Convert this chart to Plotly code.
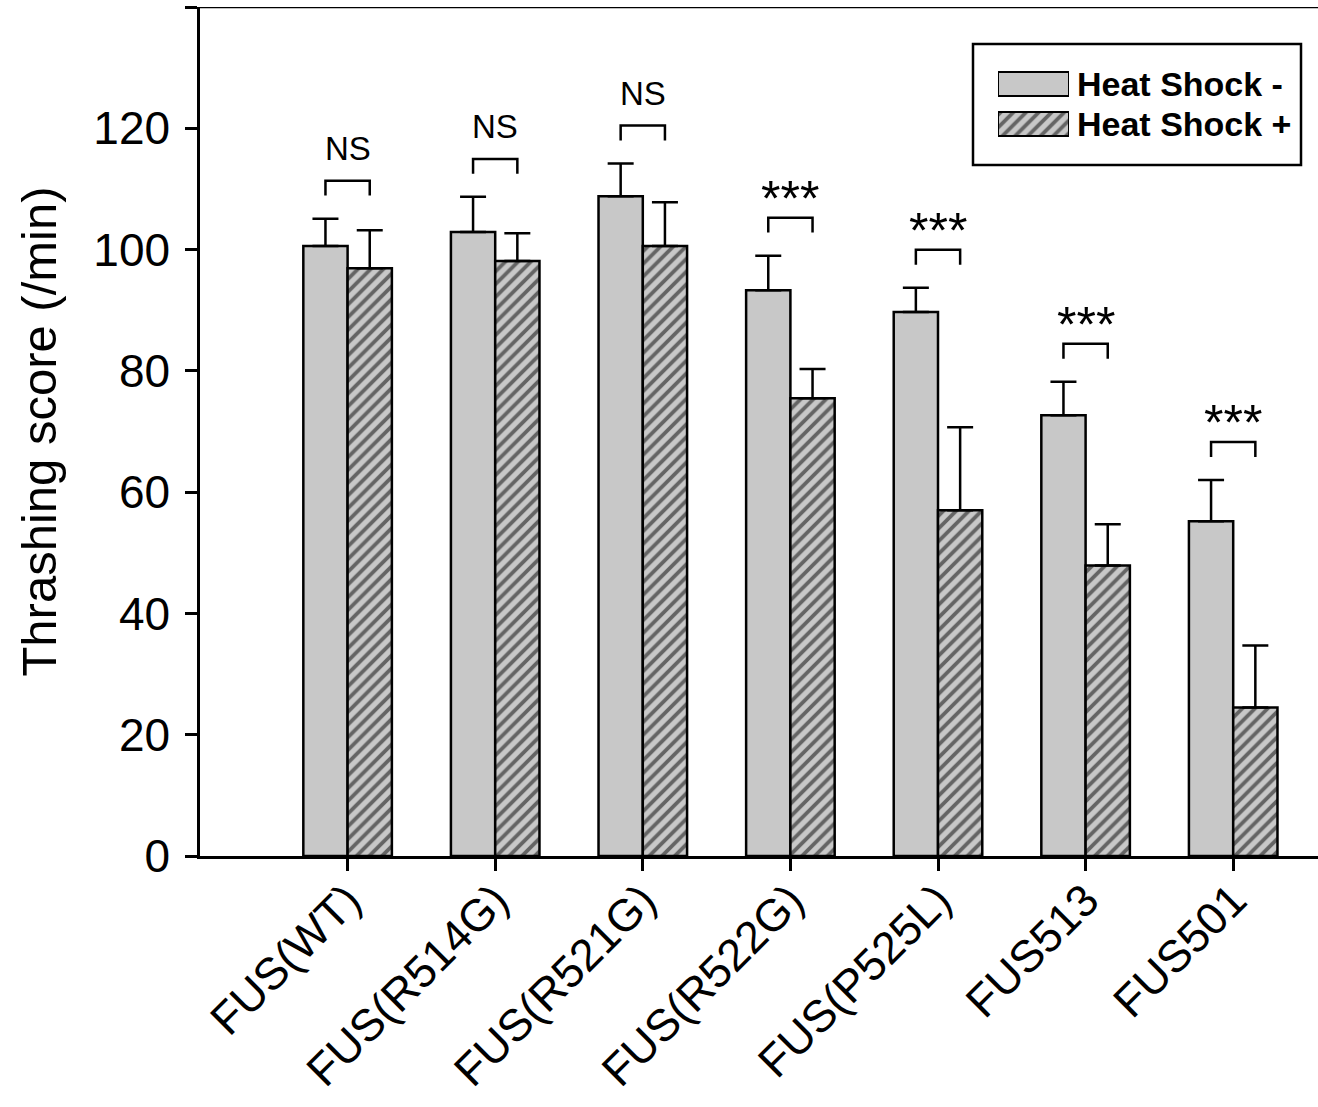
import plotly.graph_objects as go

# ---- data -------------------------------------------------------------
categories = ["FUS(WT)", "FUS(R514G)", "FUS(R521G)", "FUS(R522G)",
              "FUS(P525L)", "FUS513", "FUS501"]
series_names = ["Heat Shock -", "Heat Shock +"]

hs_minus = [100.6, 102.9, 108.8, 93.3, 89.7, 72.7, 55.2]
hs_minus_err = [4.5, 5.8, 5.4, 5.7, 4.0, 5.5, 6.8]
hs_plus = [96.9, 98.1, 100.6, 75.5, 57.0, 47.9, 24.5]
hs_plus_err = [6.3, 4.6, 7.2, 4.8, 13.7, 6.8, 10.2]

significance = ["NS", "NS", "NS", "***", "***", "***", "***"]

y_ticks = [0, 20, 40, 60, 80, 100, 120, 140]
y_ticktext = ["0", "20", "40", "60", "80", "100", "120", ""]

# ---- style ------------------------------------------------------------
FONT = "Liberation Sans, Arial, Helvetica, sans-serif"
GRAY = "#c8c8c8"
LW = 2.5
W, H = 1318, 1107
M_L, M_R, M_T, M_B = 200, 0, 7, 251
HATCH = dict(shape="/", fgcolor="black", bgcolor=GRAY, size=9, solidity=0.42)

x_pos = list(range(len(categories)))
zeros = [0] * len(categories)

fig = go.Figure()

fig.add_trace(go.Bar(
    x=x_pos, y=hs_minus, name=series_names[0], offsetgroup="a",
    marker=dict(color=GRAY, line=dict(color="black", width=LW)),
    error_y=dict(type="data", array=hs_minus_err, arrayminus=zeros,
                 symmetric=False, color="black", thickness=LW, width=13),
    showlegend=False,
))
fig.add_trace(go.Bar(
    x=x_pos, y=hs_plus, name=series_names[1], offsetgroup="b",
    marker=dict(color=GRAY, line=dict(color="black", width=LW), pattern=HATCH),
    error_y=dict(type="data", array=hs_plus_err, arrayminus=zeros,
                 symmetric=False, color="black", thickness=LW, width=13),
    showlegend=False,
))

# ---- significance brackets -------------------------------------------
half = 0.15          # half the distance between the two bar centres
leg = 2.45           # bracket leg height in data units
gap = 3.8            # space between highest cap and bracket
for i, lab in enumerate(significance):
    top_cap = max(hs_minus[i] + hs_minus_err[i], hs_plus[i] + hs_plus_err[i])
    base = top_cap + gap
    top = base + leg
    fig.add_shape(type="path",
                  path=f"M {i-half},{base} L {i-half},{top} L {i+half},{top} L {i+half},{base}",
                  xref="x", yref="y", line=dict(color="black", width=LW))
    if lab == "NS":
        fig.add_annotation(x=i, y=top, text=lab, showarrow=False,
                           xanchor="center", yanchor="bottom", yshift=12,
                           font=dict(family=FONT, size=33, color="black"))
    else:
        fig.add_annotation(x=i, y=top, text=lab, showarrow=False,
                           xanchor="center", yanchor="bottom", yshift=-11,
                           font=dict(family=FONT, size=50, color="black"))

# top frame line
fig.add_shape(type="line", xref="paper", yref="y", x0=0, x1=1, y0=140, y1=140,
              line=dict(color="black", width=LW))

# ---- legend (swatches drawn on a small inset axis) ----------------------
pw = W - M_L - M_R
ph = H - M_T - M_B


def px_x(p):
    return (p - M_L) / pw


def px_y(p):
    return (H - M_B - p) / ph


fig.add_trace(go.Bar(
    x=[1], y=[0], orientation="h", width=0.6, xaxis="x2", yaxis="y2",
    marker=dict(color=GRAY, line=dict(color="black", width=2)),
    showlegend=False, hoverinfo="skip",
))
fig.add_trace(go.Bar(
    x=[1], y=[1], orientation="h", width=0.6, xaxis="x2", yaxis="y2",
    marker=dict(color=GRAY, line=dict(color="black", width=2), pattern=HATCH),
    showlegend=False, hoverinfo="skip",
))
for k, nm in enumerate(series_names):
    fig.add_annotation(x=px_x(1075), y=px_y(84 + 40 * k), xref="paper", yref="paper",
                       text=f"<b>{nm}</b>", showarrow=False,
                       xanchor="left", yanchor="middle",
                       font=dict(family=FONT, size=34, color="black"))

fig.add_shape(type="rect", xref="paper", yref="paper",
              x0=px_x(973), x1=px_x(1301), y0=px_y(165), y1=px_y(44),
              line=dict(color="black", width=LW), fillcolor="rgba(0,0,0,0)",
              layer="below")

fig.update_layout(
    width=W, height=H,
    margin=dict(l=M_L, r=M_R, t=M_T, b=M_B),
    paper_bgcolor="white", plot_bgcolor="white",
    barmode="group", bargap=0.4, bargroupgap=0,
    font=dict(family=FONT, color="black"),
    xaxis=dict(
        range=[-1, (W - M_L) / 147.6 - 1], tickmode="array",
        tickvals=x_pos, ticktext=categories, tickangle=-45,
        tickfont=dict(size=45), showgrid=False, zeroline=False,
        showline=True, linecolor="black", linewidth=LW,
        ticks="outside", ticklen=12, tickwidth=LW, tickcolor="black",
        ticklabelstandoff=-15, automargin=False,
    ),
    yaxis=dict(
        range=[0, 140], tickmode="array", tickvals=y_ticks, ticktext=y_ticktext,
        tickfont=dict(size=46), showgrid=False, zeroline=False,
        showline=True, linecolor="black", linewidth=LW,
        ticks="outside", ticklen=12, tickwidth=LW, tickcolor="black",
        ticklabelstandoff=6, automargin=False,
        title=dict(text="Thrashing score (/min)", font=dict(size=49), standoff=22),
    ),
    xaxis2=dict(domain=[px_x(998), px_x(1069)], range=[0, 1], anchor="y2",
                visible=False, fixedrange=True),
    yaxis2=dict(domain=[px_y(144), px_y(64)], range=[1.5, -0.5], anchor="x2",
                visible=False, fixedrange=True),
)

fig.write_html("out.html")
